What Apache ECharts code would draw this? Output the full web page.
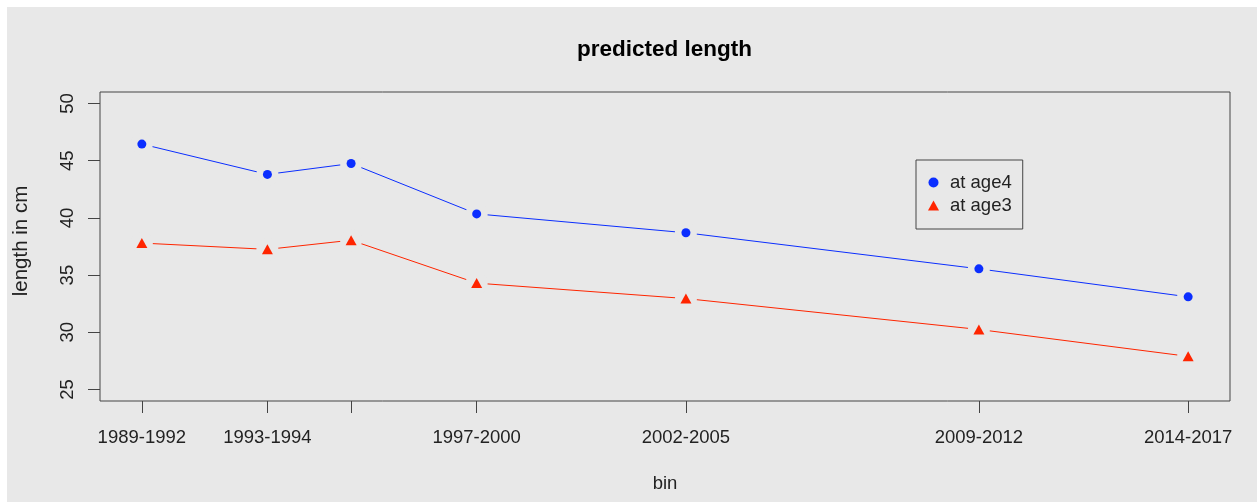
<!DOCTYPE html>
<html>
<head>
<meta charset="utf-8">
<title>predicted length</title>
<script src="https://cdn.jsdelivr.net/npm/echarts@6/dist/echarts.min.js"></script>
<style>
  html, body { margin: 0; padding: 0; background: #FFFFFF; overflow: hidden; }
  #chart { position: absolute; left: 7px; top: 7px; width: 1250px; height: 495px; }
</style>
</head>
<body>
<div id="chart"></div>
<script>
// Bin midpoints (years) and their labels; the 1995-1996 bin gets a tick only
const binMid = [1990.5, 1993.5, 1995.5, 1998.5, 2003.5, 2010.5, 2015.5];
const binLabels = ['1989-1992', '1993-1994', '', '1997-2000', '2002-2005', '2009-2012', '2014-2017'];
// Predicted length (cm)
const age4 = [46.45, 43.8, 44.75, 40.35, 38.7, 35.55, 33.1];
const age3 = [37.8, 37.25, 38.05, 34.3, 32.95, 30.25, 27.9];
const yTicks = [25, 30, 35, 40, 45, 50];

const BG = '#E8E8E8';
const BLUE = '#0B2EFF';
const RED = '#FF2500';
const INK = '#222';
const FONT = 'Liberation Sans, Arial, Helvetica, sans-serif';
const FS = 18.5;

const pts = arr => binMid.map((x, i) => [x, arr[i]]);

const chart = echarts.init(document.getElementById('chart'), null, { renderer: 'canvas' });

chart.setOption({
  backgroundColor: BG,
  animation: false,
  title: {
    text: 'predicted length',
    left: 565,
    top: 26,
    textStyle: { fontFamily: FONT, fontSize: 22.5, fontWeight: 'bold', color: '#000' }
  },
  legend: {
    orient: 'vertical',
    left: 909,
    top: 153,
    padding: [13, 11, 14, 12],
    itemGap: 4,
    itemWidth: 11,
    itemHeight: 10,
    borderColor: '#444',
    borderWidth: 1,
    textStyle: { fontFamily: FONT, fontSize: FS, color: INK, lineHeight: 18, padding: [0, 0, 0, 6] },
    data: [
      { name: 'at age4', icon: 'circle', itemStyle: { color: BLUE, opacity: 1 } },
      { name: 'at age3', icon: 'triangle', itemStyle: { color: RED, opacity: 1 } }
    ]
  },
  grid: {
    left: 93, right: 27, top: 85, bottom: 101,
    outerBoundsMode: 'none',
    containLabel: false,
    show: true, borderColor: '#444', borderWidth: 1, backgroundColor: 'transparent'
  },
  xAxis: {
    type: 'value',
    min: 1989.5,
    max: 2016.5,
    name: 'bin',
    nameLocation: 'middle',
    nameGap: 73,
    nameTextStyle: { fontFamily: FONT, fontSize: FS, color: INK },
    axisLine: { show: false },
    splitLine: { show: false },
    axisTick: { show: true, length: 12, inside: false, customValues: binMid, lineStyle: { color: '#444' } },
    axisLabel: {
      customValues: binMid,
      margin: 27,
      fontFamily: FONT, fontSize: FS, color: INK,
      formatter: v => {
        const i = binMid.findIndex(b => Math.abs(b - v) < 1e-6);
        return i >= 0 ? binLabels[i] : '';
      }
    }
  },
  yAxis: {
    type: 'value',
    min: 24,
    max: 51,
    name: 'length in cm',
    nameLocation: 'middle',
    nameGap: 68,
    nameTextStyle: { fontFamily: FONT, fontSize: 20.5, color: INK, padding: [0, 0, 0, 11] },
    axisLine: { show: false },
    splitLine: { show: false },
    axisTick: { show: true, length: 12, inside: false, customValues: yTicks, lineStyle: { color: '#444' } },
    axisLabel: {
      customValues: yTicks,
      rotate: 90,
      margin: 23,
      fontFamily: FONT, fontSize: FS, color: INK
    }
  },
  series: [
    {
      name: 'at age4', type: 'line', z: 2, data: pts(age4),
      showSymbol: false, color: BLUE, lineStyle: { color: BLUE, width: 1 }
    },
    {
      name: 'at age3', type: 'line', z: 2, data: pts(age3),
      showSymbol: false, color: RED, lineStyle: { color: RED, width: 1 }
    },
    // background discs leave the gaps between segments and markers
    {
      name: 'gap4', type: 'scatter', z: 3, silent: true, data: pts(age4),
      symbol: 'circle', symbolSize: 22, itemStyle: { color: BG, opacity: 1 }
    },
    {
      name: 'gap3', type: 'scatter', z: 3, silent: true, data: pts(age3),
      symbol: 'circle', symbolSize: 22, itemStyle: { color: BG, opacity: 1 }
    },
    {
      name: 'at age4', type: 'scatter', z: 4, data: pts(age4),
      symbol: 'circle', symbolSize: 9, itemStyle: { color: BLUE, opacity: 1 }
    },
    {
      name: 'at age3', type: 'scatter', z: 4, data: pts(age3),
      symbol: 'triangle', symbolSize: [11, 10], itemStyle: { color: RED, opacity: 1 }
    }
  ]
});
</script>
</body>
</html>
